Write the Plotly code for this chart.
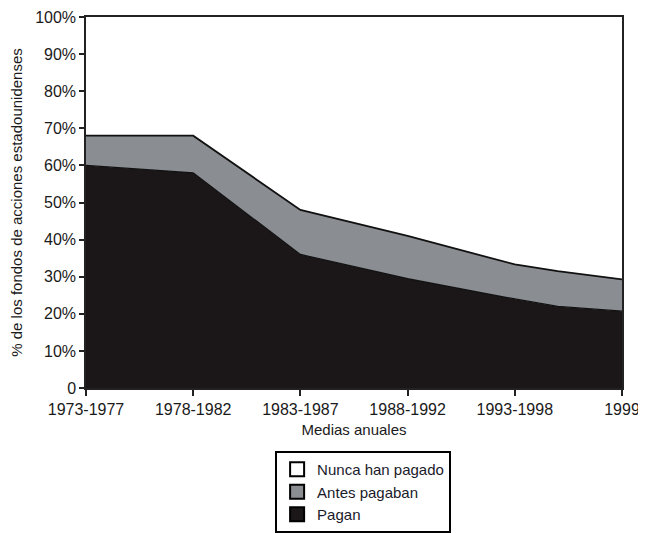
import plotly.graph_objects as go

# Data
periods = ["1973-1977", "1978-1982", "1983-1987", "1988-1992", "1993-1998", "1999"]
tick_positions = [0, 1, 2, 3, 4, 5]
x_pos = [0, 1, 2, 3, 4, 4.4, 5]
pagan = [60, 58, 36, 29.5, 24, 22, 20.7]
antes_pagaban = [8, 10, 12, 11.5, 9.3, 9.5, 8.6]
nunca = [100 - p - a for p, a in zip(pagan, antes_pagaban)]

y_ticks = [0, 10, 20, 30, 40, 50, 60, 70, 80, 90, 100]
y_labels = ["0", "10%", "20%", "30%", "40%", "50%", "60%", "70%", "80%", "90%", "100%"]

BLACK = "#1b1718"
GRAY = "#8a8d91"
EDGE = "#111111"
FONT = "Liberation Sans, Arial, sans-serif"

fig = go.Figure()
fig.add_trace(go.Scatter(x=x_pos, y=pagan, stackgroup="s", mode="lines",
                         line=dict(color=EDGE, width=1.2), fillcolor=BLACK,
                         showlegend=False, hoverinfo="skip"))
fig.add_trace(go.Scatter(x=x_pos, y=antes_pagaban, stackgroup="s", mode="lines",
                         line=dict(color=EDGE, width=1.8), fillcolor=GRAY,
                         showlegend=False, hoverinfo="skip"))
fig.add_trace(go.Scatter(x=x_pos, y=nunca, stackgroup="s", mode="lines",
                         line=dict(color="rgba(0,0,0,0)", width=0), fillcolor="white",
                         showlegend=False, hoverinfo="skip"))

# legend entries (square swatches)
for name, col in [("Nunca han pagado", "white"), ("Antes pagaban", GRAY), ("Pagan", BLACK)]:
    fig.add_trace(go.Scatter(x=[None], y=[None], mode="markers", name=name,
                             marker=dict(symbol="square", size=14, color=col,
                                         line=dict(color="black", width=2))))

fig.update_layout(
    width=638, height=525,
    margin=dict(l=78, r=24, t=9, b=145, autoexpand=False),
    paper_bgcolor="white", plot_bgcolor="white",
    font=dict(family=FONT, color="#1a1a1a", size=16),
    showlegend=True,
    legend=dict(x=0.517, y=-0.17, xanchor="center", yanchor="top",
                bordercolor="black", borderwidth=2, bgcolor="white",
                traceorder="normal",
                font=dict(size=15, color="#1a1a2a"), tracegroupgap=0,
                itemwidth=30),
)
fig.update_xaxes(range=[0, 5], tickvals=tick_positions, ticktext=periods,
                 automargin=False, ticklabeloverflow="allow",
                 showgrid=False, zeroline=False, showline=True, linecolor="#222",
                 linewidth=1.5, mirror=True, ticks="outside", ticklen=6,
                 tickcolor="#222", tickwidth=1.5, tickfont=dict(size=16),
                 title=dict(text="Medias anuales", font=dict(size=15), standoff=8))
fig.update_yaxes(range=[0, 100], tickvals=y_ticks, ticktext=y_labels,
                 automargin=False, ticklabeloverflow="allow",
                 showgrid=False, zeroline=False, showline=True, linecolor="#222",
                 linewidth=1.5, mirror=True, ticks="outside", ticklen=5,
                 tickcolor="#222", tickwidth=1.5, tickfont=dict(size=16),
                 title=dict(text="% de los fondos de acciones estadounidenses",
                            font=dict(size=15), standoff=20))

fig.write_html("out.html")
